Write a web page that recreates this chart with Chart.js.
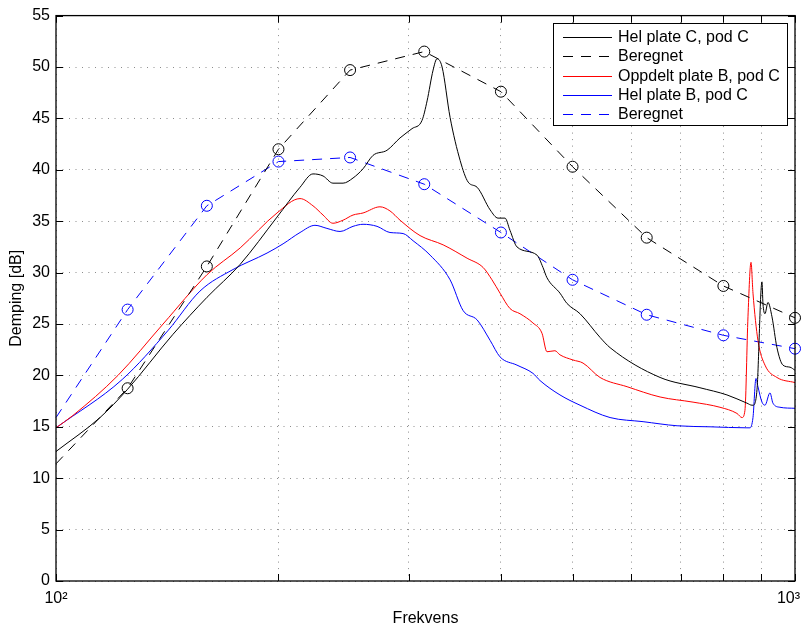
<!DOCTYPE html>
<html>
<head>
<meta charset="utf-8">
<script src="https://cdn.jsdelivr.net/npm/chart.js@4"></script>
<style>
  body { margin: 0; background: #fff; }
  canvas { display: block; }
</style>
</head>
<body>
<canvas id="chart" width="806" height="628"></canvas>
<script>
const FONT = "'Liberation Sans', Arial, sans-serif";

// 1/3-octave centre frequencies for the calculated curves
const freqThird = [100, 125, 160, 200, 250, 315, 400, 500, 630, 800, 1000];
const calcC = [11.4, 18.75, 30.6, 42.0, 49.7, 51.5, 47.6, 40.3, 33.4, 28.7, 25.6];
const calcB = [15.9, 26.4, 36.5, 40.8, 41.2, 38.6, 33.9, 29.3, 25.9, 23.9, 22.6];

// measured: Hel plate C, pod C
const freqHelC = [100, 114.7, 124.8, 144.0, 160.1, 177.5, 199.1, 213.9, 222.7, 229.8, 237.0, 244.6, 252.3, 260.3, 268.5, 280.5, 292.1, 303.2, 312.8, 317.8, 323.8, 327.8, 333.0, 341.4, 352.3, 361.2, 371.4, 386.8, 396.4, 405.1, 411.5, 420.5, 447.6, 456.0, 461.7, 480.8, 491.4, 511.8, 544.7, 562.0, 656.8, 743.7, 809.0, 861.0, 874.6, 877.3, 888.3, 902.2, 905.0, 910.7, 919.2, 930.8, 945.3, 963.2, 984.5, 1000];
const valHelC = [12.6, 15.9, 18.6, 24.0, 27.6, 30.8, 35.4, 38.3, 39.6, 39.4, 38.7, 38.7, 39.2, 40.1, 41.4, 41.9, 43.1, 44.0, 44.8, 46.7, 49.7, 50.8, 50.0, 45.1, 40.9, 38.8, 38.3, 36.1, 35.3, 35.3, 34.1, 32.5, 31.7, 30.5, 29.5, 28.0, 27.0, 26.0, 23.7, 22.7, 19.8, 18.8, 18.1, 17.3, 17.1, 17.1, 18.6, 29.1, 27.0, 26.0, 27.1, 25.7, 22.7, 21.0, 20.8, 20.5];

// measured: Oppdelt plate B, pod C
const freqOppB = [100, 105.4, 121.3, 139.6, 160.1, 177.5, 199.1, 213.9, 222.7, 229.8, 237.0, 244.6, 252.3, 260.3, 274.4, 283.1, 292.1, 310.9, 334.1, 360.0, 378.4, 389.0, 398.9, 411.5, 424.5, 442.0, 454.6, 461.7, 473.3, 480.8, 500.7, 516.6, 544.7, 592.6, 656.8, 727.8, 791.6, 834.6, 847.8, 855.6, 863.7, 871.9, 877.3, 891.0, 910.7, 945.3, 1000];
const valOppB = [14.9, 16.1, 20.0, 25.0, 29.8, 32.4, 35.8, 37.2, 36.5, 35.6, 34.8, 35.1, 35.6, 35.8, 36.4, 36.0, 35.1, 33.6, 32.7, 31.4, 30.5, 29.3, 28.0, 26.5, 26.0, 25.1, 24.1, 22.3, 22.4, 22.0, 21.5, 21.2, 19.8, 18.9, 17.9, 17.4, 16.9, 16.3, 15.9, 16.6, 25.7, 31.0, 28.0, 23.4, 21.0, 19.8, 19.3];

// measured: Hel plate B, pod C
const freqHelB = [100, 122.9, 141.9, 156.6, 173.6, 193.0, 202.9, 213.9, 224.1, 232.6, 242.3, 252.3, 260.3, 271.9, 283.1, 294.9, 304.2, 320.8, 341.4, 355.6, 371.4, 386.8, 398.9, 420.5, 442.0, 451.8, 480.8, 511.8, 562.0, 622.9, 692.5, 767.4, 861.0, 869.1, 877.3, 885.5, 891.0, 902.2, 910.7, 925.0, 933.6, 954.2, 1000];
const valHelB = [14.9, 19.6, 24.4, 28.2, 30.3, 31.9, 32.8, 33.9, 34.6, 34.3, 34.0, 34.5, 34.7, 34.5, 33.9, 33.8, 33.1, 31.7, 29.3, 26.3, 25.4, 23.4, 21.8, 21.0, 20.2, 19.5, 18.1, 17.1, 15.9, 15.5, 15.1, 15.0, 14.9, 14.9, 15.9, 19.7, 18.9, 17.4, 17.1, 18.3, 17.3, 16.9, 16.8];

const xTicks = [100, 200, 300, 400, 500, 600, 700, 800, 900, 1000];
const xTickLabels = { 100: "10²", 1000: "10³" };
const yTicks = [0, 5, 10, 15, 20, 25, 30, 35, 40, 45, 50, 55];

function toPoints(xs, ys) {
  return xs.map((x, i) => ({ x: x, y: ys[i] }));
}

const DASH = [10, 8];
const markerRadius = freqThird.map((f) => (f === 100 ? 0 : 5.5));

const datasets = [
  {
    label: "Hel plate C, pod C",
    data: toPoints(freqHelC, valHelC),
    borderColor: "#000000",
    borderWidth: 1,
    pointRadius: 0,
    cubicInterpolationMode: "monotone",
  },
  {
    label: "Beregnet",
    data: toPoints(freqThird, calcC),
    borderColor: "#000000",
    borderWidth: 1,
    borderDash: DASH,
    pointRadius: markerRadius,
    pointBorderColor: "#000000",
    pointBackgroundColor: "rgba(0,0,0,0)",
    pointBorderWidth: 1,
    clip: false,
  },
  {
    label: "Oppdelt plate B, pod C",
    data: toPoints(freqOppB, valOppB),
    borderColor: "#ff0000",
    borderWidth: 1,
    pointRadius: 0,
    cubicInterpolationMode: "monotone",
  },
  {
    label: "Hel plate B, pod C",
    data: toPoints(freqHelB, valHelB),
    borderColor: "#0000ff",
    borderWidth: 1,
    pointRadius: 0,
    cubicInterpolationMode: "monotone",
  },
  {
    label: "Beregnet",
    data: toPoints(freqThird, calcB),
    borderColor: "#0000ff",
    borderWidth: 1,
    borderDash: DASH,
    pointRadius: markerRadius,
    pointBorderColor: "#0000ff",
    pointBackgroundColor: "rgba(0,0,0,0)",
    pointBorderWidth: 1,
    clip: false,
  },
];

// box, inward ticks, x labels and legend in the matlab look
const framePlugin = {
  id: "frame",
  afterDraw(chart) {
    const { ctx, chartArea: a } = chart;
    const xs = chart.scales.x;
    const ys = chart.scales.y;
    ctx.save();
    ctx.strokeStyle = "#000";
    ctx.lineWidth = 1;
    ctx.setLineDash([]);
    ctx.beginPath();
    yTicks.forEach((v) => {
      const py = Math.round(ys.getPixelForValue(v)) + 0.5;
      ctx.moveTo(a.left, py);
      ctx.lineTo(a.left + 7, py);
      ctx.moveTo(a.right, py);
      ctx.lineTo(a.right - 7, py);
    });
    xTicks.forEach((v) => {
      const px = Math.round(xs.getPixelForValue(v)) + 0.5;
      ctx.moveTo(px, a.bottom);
      ctx.lineTo(px, a.bottom - 7);
      ctx.moveTo(px, a.top);
      ctx.lineTo(px, a.top + 7);
    });
    ctx.stroke();
    ctx.lineWidth = 1.3;
    ctx.strokeRect(a.left, a.top, a.right - a.left, a.bottom - a.top);

    // x tick labels
    ctx.fillStyle = "#000";
    ctx.font = "16px " + FONT;
    ctx.textBaseline = "middle";
    Object.keys(xTickLabels).forEach((k) => {
      const v = Number(k);
      const txt = xTickLabels[k];
      const px = xs.getPixelForValue(v);
      const w = ctx.measureText(txt).width;
      ctx.textAlign = "left";
      let left = px - w / 2;
      if (left + w > chart.width - 6) left = chart.width - 6 - w;
      ctx.fillText(txt, left, 599);
    });

    // legend
    const lx = 553.5, ly = 23.5, lw = 234, lh = 102;
    ctx.fillStyle = "#fff";
    ctx.fillRect(lx, ly, lw, lh);
    ctx.lineWidth = 1;
    ctx.strokeStyle = "#000";
    ctx.strokeRect(lx, ly, lw, lh);
    chart.data.datasets.forEach((ds, i) => {
      const ry = Math.round(36.7 + i * 19.4) + 0.5;
      ctx.strokeStyle = ds.borderColor;
      ctx.setLineDash(ds.borderDash || []);
      ctx.beginPath();
      ctx.moveTo(563, ry);
      ctx.lineTo(612, ry);
      ctx.stroke();
      ctx.setLineDash([]);
      ctx.fillStyle = "#000";
      ctx.textAlign = "left";
      ctx.fillText(ds.label, 618, ry);
    });
    ctx.restore();
  },
};

const chart = new Chart(document.getElementById("chart").getContext("2d"), {
  type: "line",
  data: { datasets: datasets },
  options: {
    responsive: false,
    animation: false,
    devicePixelRatio: 1,
    layout: { padding: { top: 15, right: 11, left: 0, bottom: 0 } },
    plugins: {
      legend: { display: false },
      tooltip: { enabled: false },
    },
    scales: {
      x: {
        type: "logarithmic",
        min: 100,
        max: 1000,
        afterFit: (scale) => {
          scale.height = 47;
        },
        afterBuildTicks: (scale) => {
          scale.ticks = xTicks.map((v) => ({ value: v }));
        },
        ticks: { display: false },
        grid: { color: "#8c8c8c", lineWidth: 1, drawTicks: false },
        border: { display: false, dash: [1, 5.5] },
        title: {
          display: true,
          text: "Frekvens",
          color: "#000",
          font: { family: FONT, size: 16 },
          padding: { top: 0, bottom: 0 },
        },
      },
      y: {
        type: "linear",
        min: 0,
        max: 55,
        afterFit: (scale) => {
          scale.width = 56;
        },
        afterBuildTicks: (scale) => {
          scale.ticks = yTicks.map((v) => ({ value: v }));
        },
        ticks: {
          color: "#000",
          font: { family: FONT, size: 16 },
          padding: 6,
        },
        grid: { color: "#8c8c8c", lineWidth: 1, drawTicks: false },
        border: { display: false, dash: [1, 5.5] },
        title: {
          display: true,
          text: "Demping [dB]",
          color: "#000",
          font: { family: FONT, size: 16 },
          padding: { top: 7, bottom: 0 },
        },
      },
    },
  },
  plugins: [framePlugin],
});
</script>
</body>
</html>
